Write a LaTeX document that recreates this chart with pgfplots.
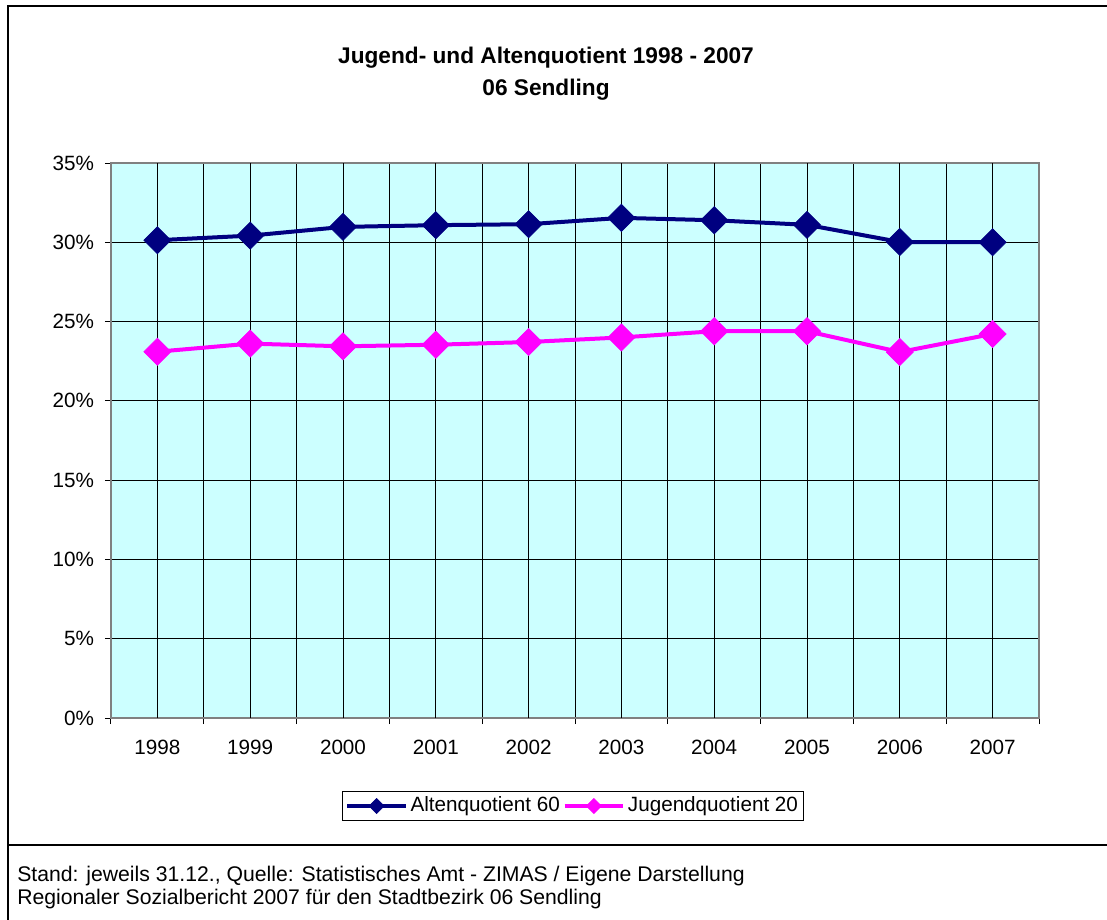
\documentclass[border=0pt]{standalone}
\usepackage{fontspec}
\setmainfont{Liberation Sans}
\usepackage{pgfplots}
\pgfplotsset{compat=1.18}
\definecolor{navy}{HTML}{000080}
\definecolor{mag}{HTML}{FF00FF}
\definecolor{bg}{HTML}{CCFFFF}
\definecolor{axgray}{HTML}{808080}
\begin{document}
\fontsize{15.5pt}{18pt}\selectfont
\begin{tikzpicture}
\useasboundingbox (0,0) rectangle (830.25pt,-690pt);
\draw[line width=1.5pt] (6pt,-690pt) -- (6pt,-4.5pt) -- (831pt,-4.5pt);
\draw[line width=1.5pt] (6pt,-633.5pt) -- (831pt,-633.5pt);
\node[anchor=base, font=\fontsize{17pt}{20pt}\selectfont\bfseries, inner sep=0pt] at (409.5pt,-47.5pt) {Jugend- und Altenquotient 1998 - 2007};
\node[anchor=base, font=\fontsize{17pt}{20pt}\selectfont\bfseries, inner sep=0pt] at (409.5pt,-71.5pt) {06 Sendling};
\node[anchor=base west, inner sep=0pt, font=\fontsize{15.9pt}{19pt}\selectfont] at (12.75pt,-660.75pt) {Stand: jeweils 31.12., Quelle: Statistisches Amt - ZIMAS / Eigene Darstellung};
\node[anchor=base west, inner sep=0pt, font=\fontsize{15.9pt}{19pt}\selectfont] at (12.75pt,-678pt) {Regionaler Sozialbericht 2007 für den Stadtbezirk 06 Sendling};
\begin{axis}[
  at={(83.25pt,-538.5pt)}, anchor=south west,
  scale only axis, width=696pt, height=416.25pt,
  xmin=-0.5, xmax=9.5, ymin=0, ymax=35,
  xtick={-0.5,0.5,...,9.5}, xticklabels={},
  extra x ticks={0,1,2,3,4,5,6,7,8,9},
  extra x tick labels={1998,1999,2000,2001,2002,2003,2004,2005,2006,2007},
  extra x tick style={major tick length=0pt, grid=major,
     tick label style={yshift=-11.5pt}},
  ytick={0,5,10,15,20,25,30,35},
  yticklabel={\pgfmathprintnumber{\tick}\%},
  y tick label style={xshift=-2.8pt},
  tick label style={font=\fontsize{15.5pt}{18pt}\selectfont},
  /pgf/number format/assume math mode=true,
  xmajorgrids, ymajorgrids,
  grid style={black, line width=0.65pt},
  axis background/.style={fill=bg},
  axis line style={axgray, line width=1.5pt},
  tick align=outside, tick pos=left,
  major tick length=4.5pt,
  tick style={black, line width=0.75pt},
  legend style={at={(0.4978,-0.1586)}, anchor=center, legend columns=-1,
     draw=black, line width=0.5pt, fill=white, font=\fontsize{15.5pt}{18pt}\selectfont,
     inner sep=2pt},
  legend image code/.code={
     \draw[mark repeat=2,mark phase=2,#1, mark size=4pt]
       plot coordinates {(0pt,0pt)(22pt,0pt)(44pt,0pt)};},
]
\addplot[navy, line width=3pt, mark=square*, mark size=7.2pt,
  mark options={rotate=45, line width=0.5pt}] coordinates {
(0,30.13) (1,30.42) (2,30.97) (3,31.08) (4,31.14) (5,31.54) (6,31.39) (7,31.10) (8,30.02) (9,30.00)};
\addlegendentry{Altenquotient 60}
\addplot[mag, line width=3pt, mark=square*, mark size=7.2pt,
  mark options={rotate=45, line width=0.5pt}] coordinates {
(0,23.10) (1,23.61) (2,23.44) (3,23.54) (4,23.71) (5,24.00) (6,24.39) (7,24.39) (8,23.08) (9,24.22)};
\addlegendentry{Jugendquotient 20}
\end{axis}
\end{tikzpicture}
\end{document}
